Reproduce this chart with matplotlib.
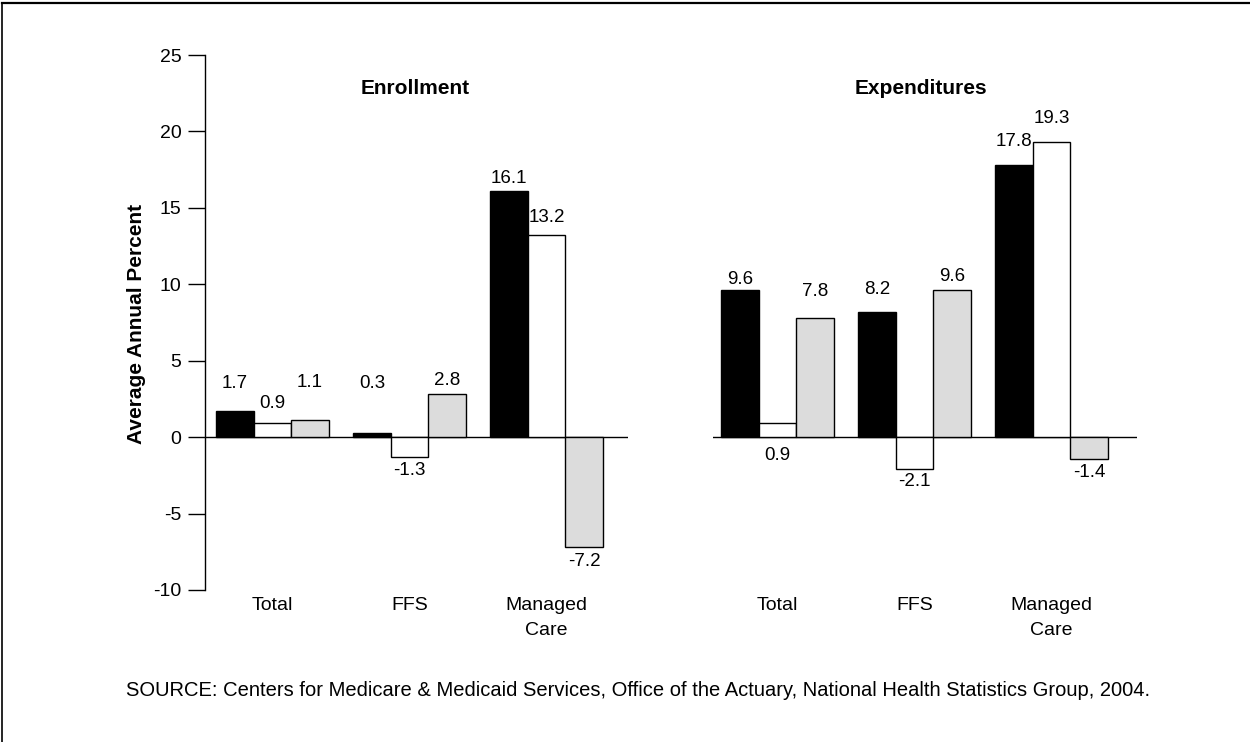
import matplotlib
matplotlib.use("Agg")
import matplotlib.pyplot as plt
from matplotlib.lines import Line2D
import numpy as np

plt.rcParams['font.family'] = ['Liberation Sans', 'DejaVu Sans']

# ---------------- data ----------------
categories = ["Total", "FFS", "Managed\nCare"]
panels = ["Enrollment", "Expenditures"]
# three series per category (black, white, gray bars)
enroll_black = [1.7, 0.3, 16.1]
enroll_white = [0.9, -1.3, 13.2]
enroll_gray = [1.1, 2.8, -7.2]
expend_black = [9.6, 8.2, 17.8]
expend_white = [0.9, -2.1, 19.3]
expend_gray = [7.8, 9.6, -1.4]
yticks = [-10, -5, 0, 5, 10, 15, 20, 25]
ylabel = "Average Annual Percent"
source = ("SOURCE: Centers for Medicare & Medicaid Services, Office of the Actuary, "
          "National Health Statistics Group, 2004.")

# ---------------- styling ----------------
series_colors = ["#000000", "#ffffff", "#dcdcdc"]
# label vertical offsets (points) relative to the bar end, per series, per category
enroll_label_dy = [[20, 35, 9], [14, -10, 13], [27, 10, -10]]
expend_label_dy = [[8, 16, 17], [-23, -9, 17], [19, 10, -10]]

W, H = 1250, 742
fig = plt.figure(figsize=(W / 100, H / 100), dpi=100)


def px_rect(x0, y0, x1, y1):
    return [x0 / W, 1 - y1 / H, (x1 - x0) / W, (y1 - y0) / H]


bar_w = 37.5 / 137.0
offsets = [-bar_w, 0, bar_w]
x = np.arange(len(categories))

ax1 = fig.add_axes(px_rect(205, 55, 628, 590))
ax2 = fig.add_axes(px_rect(713, 55, 1137, 590))
ax1.set_xlim(-67.5 / 137, (423 - 67.5) / 137)
ax2.set_xlim(-64.5 / 137, (424 - 64.5) / 137)

for ax, series, dys in [
    (ax1, [enroll_black, enroll_white, enroll_gray], enroll_label_dy),
    (ax2, [expend_black, expend_white, expend_gray], expend_label_dy),
]:
    ax.set_ylim(-10, 25)
    ax.axhline(0, color="black", lw=1.0, zorder=1)
    for s, (vals, col) in enumerate(zip(series, series_colors)):
        ax.bar(x + offsets[s], vals, width=bar_w, color=col,
               edgecolor="black", linewidth=1.0, zorder=2)
        for i, v in enumerate(vals):
            ax.annotate(f"{v:.1f}", xy=(x[i] + offsets[s], v),
                        xytext=(0, dys[s][i]), textcoords="offset points",
                        ha="center", va="center", fontsize=13.5)
    for sp in ["top", "right", "bottom"]:
        ax.spines[sp].set_visible(False)
    ax.set_xticks(x)
    ax.set_xticklabels(categories, fontsize=14, linespacing=1.6)
    ax.tick_params(axis="x", length=0, pad=5)
    ax.patch.set_alpha(0)

ax1.spines["left"].set_linewidth(1.0)
ax1.set_yticks(yticks)
ax1.set_yticklabels([str(t) for t in yticks], fontsize=14)
ax1.tick_params(axis="y", length=12, width=1.0, pad=5)
ax2.spines["left"].set_visible(False)
ax2.set_yticks([])

fig.text(415 / W, 1 - 88 / H, panels[0], ha="center", va="center",
         fontsize=15, fontweight="bold")
fig.text(921 / W, 1 - 88 / H, panels[1], ha="center", va="center",
         fontsize=15, fontweight="bold")
fig.text(137 / W, 1 - 324 / H, ylabel, rotation=90, ha="center", va="center",
         fontsize=15, fontweight="bold")
fig.text(638 / W, 1 - 690 / H, source, ha="center", va="center", fontsize=14.5)

# outer frame (top and left edges)
fig.add_artist(Line2D([2 / W, 1.0], [1 - 3 / H, 1 - 3 / H], color="black", lw=1.6,
                      transform=fig.transFigure))
fig.add_artist(Line2D([2 / W, 2 / W], [0, 1 - 3 / H], color="black", lw=1.2,
                      transform=fig.transFigure))

fig.savefig("out.png", dpi=100)
